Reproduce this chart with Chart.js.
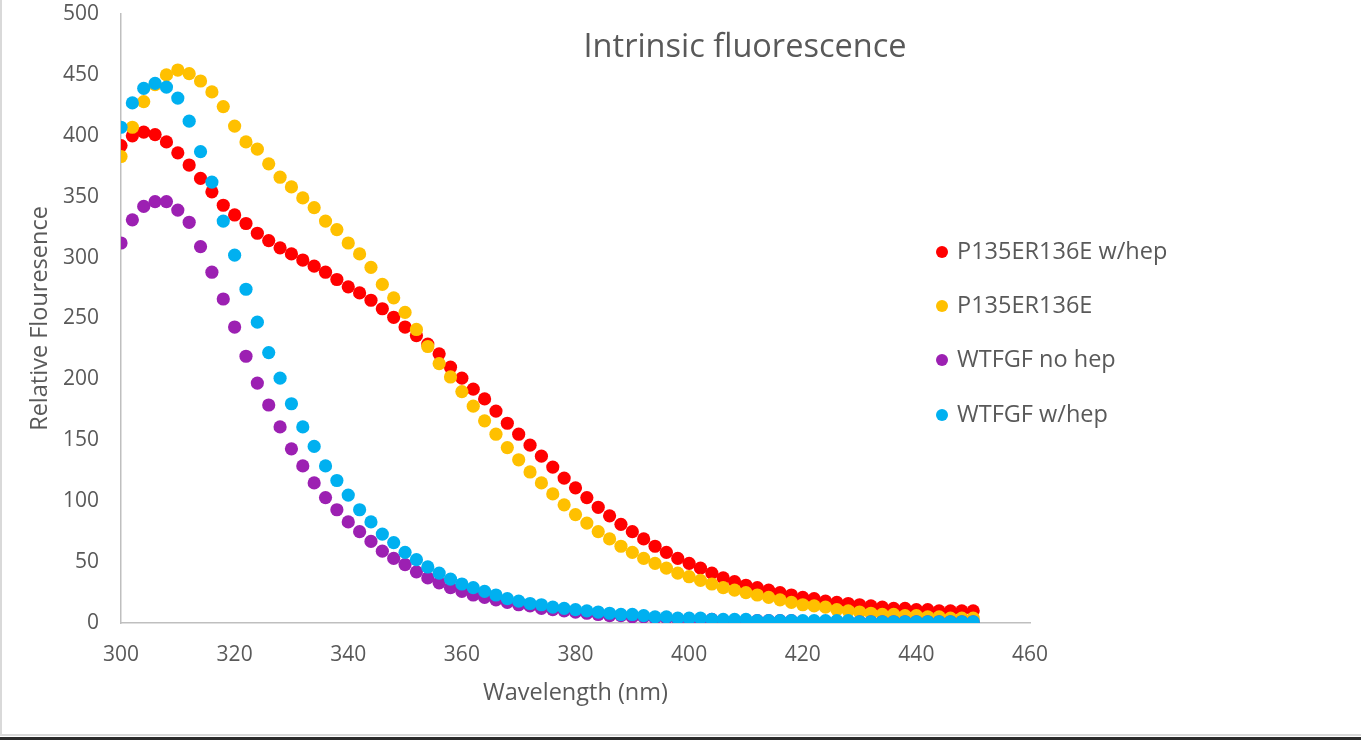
<!DOCTYPE html>
<html><head><meta charset="utf-8">
<script src="https://cdn.jsdelivr.net/npm/chart.js@4.4.1/dist/chart.umd.min.js"></script>
<style>html,body{margin:0;padding:0;background:#fff;overflow:hidden}canvas{display:block}</style>
</head><body>
<canvas id="c" width="1361" height="740"></canvas>
<script>
const chartTitle = 'Intrinsic fluorescence';
const xTitle = 'Wavelength (nm)';
const yTitle = 'Relative Flouresence';
const seriesNames = ['P135ER136E w/hep', 'P135ER136E', 'WTFGF no hep', 'WTFGF w/hep'];
const seriesColors = ['#FF0000', '#FFC000', '#9C20B2', '#00B0F0'];

const wavelengths = [300,302,304,306,308,310,312,314,316,318,320,322,324,326,328,330,332,334,336,338,
  340,342,344,346,348,350,352,354,356,358,360,362,364,366,368,370,372,374,376,378,
  380,382,384,386,388,390,392,394,396,398,400,402,404,406,408,410,412,414,416,418,
  420,422,424,426,428,430,432,434,436,438,440,442,444,446,448,450];

const p135HepValues = [392,400,403,401,395,386,376,365,354,343,
  335,328,320,314,308,303,298,293,288,282,
  276,271,265,258,251,243,236,229,221,210,
  201,192,184,174,164,155,146,137,128,119,
  111,103,95,88,81,75,69,63,58,53,
  49,45,41,37,34,31,29,27,25,23,
  21,20,18,17,16,15,14,13,12,12,
  11,11,10,10,10,10];

const p135Values = [383,407,428,442,450,454,451,445,436,424,
  408,395,389,377,366,358,349,341,330,323,
  312,303,292,278,267,255,241,227,213,202,
  190,178,166,155,144,134,124,115,106,97,
  89,82,75,69,63,58,53,49,45,41,
  38,35,32,29,27,25,23,21,19,17,
  15,14,13,11,10,9,8,7,7,6,
  6,5,5,4,4,4];

const wtNoHepValues = [312,331,342,346,346,339,329,309,288,266,
  243,219,197,179,161,143,129,115,103,93,
  83,75,67,59,53,48,42,37,33,29,
  26,23,21,19,17,15,14,12,11,10,
  9,8,7,6,6,5,5,4,4,3,
  3,3,3,2,2,2,2,2,2,2,
  1,1,1,1,1,1,1,1,1,1,
  1,1,1,1,1,1];

const wtHepValues = [407,427,439,443,440,431,412,387,362,330,
  302,274,247,222,201,180,161,145,129,117,
  105,93,83,73,66,58,52,46,41,36,
  32,29,26,23,20,18,16,15,13,12,
  11,10,9,8,7,7,6,5,5,4,
  4,4,3,3,3,3,2,2,2,2,
  2,2,2,2,2,1,1,1,1,1,
  1,1,1,1,1,1];

const xTicks = [300,320,340,360,380,400,420,440,460];
const yTicks = [0,50,100,150,200,250,300,350,400,450,500];

const allValues = [p135HepValues, p135Values, wtNoHepValues, wtHepValues];
const FONT = "'Open Sans', sans-serif";
const TEXT = '#595959';

const datasets = allValues.map((vals, i) => ({
  label: seriesNames[i],
  data: wavelengths.map((x, j) => ({x: x, y: vals[j]})),
  backgroundColor: seriesColors[i],
  borderColor: seriesColors[i],
  borderWidth: 0,
  pointRadius: 6.6,
  pointHoverRadius: 6.6,
  showLine: false,
  order: 4 - i
}));

const overlay = {
  id: 'overlay',
  afterDraw(chart) {
    const ctx = chart.ctx;
    ctx.save();
    ctx.fillStyle = TEXT;
    ctx.font = "32.5px " + FONT;
    ctx.textAlign = 'center';
    ctx.textBaseline = 'middle';
    ctx.fillText(chartTitle, 745, 48);
    const ys = [252, 306, 360, 415];
    ctx.font = "23.5px " + FONT;
    ctx.textAlign = 'left';
    chart.data.datasets.forEach((ds, i) => {
      ctx.beginPath();
      ctx.fillStyle = ds.backgroundColor;
      ctx.arc(942, ys[i], 6, 0, Math.PI * 2);
      ctx.fill();
      ctx.fillStyle = TEXT;
      ctx.fillText(ds.label, 957, ys[i]);
    });
    ctx.strokeStyle = '#D9D9D9';
    ctx.lineWidth = 2;
    ctx.beginPath();
    ctx.moveTo(1, 0); ctx.lineTo(1, 735); ctx.lineTo(1361, 735);
    ctx.stroke();
    ctx.fillStyle = '#2b2b2b';
    ctx.fillRect(0, 737, 1361, 3);
    ctx.restore();
  }
};

new Chart(document.getElementById('c'), {
  type: 'scatter',
  data: { datasets: datasets },
  options: {
    responsive: false,
    animation: false,
    devicePixelRatio: 1,
    layout: { padding: { left: 0, right: 331, top: 14, bottom: 0 } },
    plugins: { legend: { display: false }, tooltip: { enabled: false }, title: { display: false } },
    scales: {
      x: {
        type: 'linear', min: 300, max: 460,
        afterFit: s => { s.height = 117; s.paddingLeft = 0; s.paddingRight = 0; },
        afterBuildTicks: s => { s.ticks = xTicks.map(v => ({value: v})); },
        grid: { display: false, drawTicks: false },
        border: { display: true, color: '#BFBFBF', width: 1.5 },
        ticks: { color: TEXT, font: { family: FONT, size: 21 }, padding: 19, maxRotation: 0 },
        title: { display: true, text: xTitle, color: TEXT, font: { family: FONT, size: 23.5 }, padding: { top: 0, bottom: 33 } }
      },
      y: {
        type: 'linear', min: 0, max: 500,
        afterFit: s => { s.width = 121; s.paddingTop = 0; s.paddingBottom = 0; },
        afterBuildTicks: s => { s.ticks = yTicks.map(v => ({value: v})); },
        grid: { display: false, drawTicks: false },
        border: { display: true, color: '#BFBFBF', width: 1.5 },
        ticks: { color: TEXT, font: { family: FONT, size: 21 }, padding: 22 },
        title: { display: true, text: yTitle, color: TEXT, font: { family: FONT, size: 23.5 }, padding: { top: 26, bottom: 0 } }
      }
    }
  },
  plugins: [overlay]
});
</script>
</body></html>
